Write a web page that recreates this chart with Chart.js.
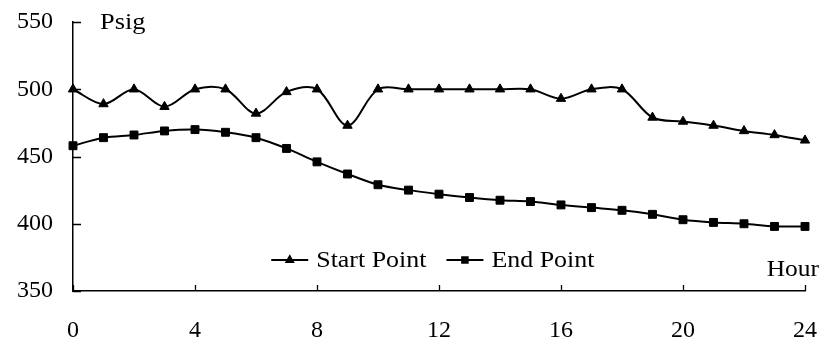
<!DOCTYPE html>
<html>
<head>
<meta charset="utf-8">
<script src="https://cdn.jsdelivr.net/npm/chart.js@4/dist/chart.umd.min.js"></script>
<style>
  html, body { margin: 0; padding: 0; background: #fff; }
  #wrap { width: 821px; height: 342px; }
</style>
</head>
<body>
<div id="wrap"><canvas id="c" width="821" height="342"></canvas></div>
<script>
// Hourly pipeline pressure (psig) at the start and end points
const hours = [0, 1, 2, 3, 4, 5, 6, 7, 8, 9, 10, 11, 12, 13, 14, 15, 16, 17, 18, 19, 20, 21, 22, 23, 24];
const startPoint = [500, 489, 500, 487, 500, 500, 482, 498, 500, 473, 500, 500, 500, 500, 500, 500, 493, 500, 500, 479, 476, 473, 469, 466, 462];
const endPoint = [458, 464, 466, 469, 470, 468, 464, 456, 446, 437, 429, 425, 422, 419.5, 417.5, 416.5, 414, 412, 410, 407, 403, 401, 400, 398, 398];
const xTicks = [0, 4, 8, 12, 16, 20, 24];
const yTicks = [350, 400, 450, 500, 550];
const seriesNames = ['Start Point', 'End Point'];
const yTitle = 'Psig';
const xTitle = 'Hour';

const FONT = '"Liberation Serif", "Times New Roman", serif';
const toPoints = vals => vals.map((v, i) => ({ x: hours[i], y: v }));

// Text drawn slightly widened, like the rest of the figure's serif lettering
function wideText(ctx, text, x, y, align, sx) {
  const w = ctx.measureText(text).width * sx;
  const left = align === 'right' ? x - w : x;
  ctx.save();
  ctx.textAlign = 'left';
  ctx.translate(left, y);
  ctx.scale(sx, 1);
  ctx.fillText(text, 0, 0);
  ctx.restore();
  return w;
}

// Short tick marks pointing into the plot, both axes
const innerTicks = {
  id: 'innerTicks',
  afterDraw(chart) {
    const { ctx, chartArea: a, scales: { x, y } } = chart;
    ctx.save();
    ctx.strokeStyle = '#000';
    ctx.lineWidth = 1.3;
    ctx.beginPath();
    xTicks.forEach(t => {
      const px = Math.round(x.getPixelForValue(t)) + 0.5;
      ctx.moveTo(px, a.bottom);
      ctx.lineTo(px, a.bottom - 6);
    });
    yTicks.forEach(t => {
      const py = Math.round(y.getPixelForValue(t)) + 0.5;
      ctx.moveTo(a.left, py);
      ctx.lineTo(a.left + 8, py);
    });
    ctx.stroke();
    ctx.restore();
  }
};

// Axis titles placed at the corners of the plot
const axisTitles = {
  id: 'axisTitles',
  afterDraw(chart) {
    const { ctx, chartArea: a } = chart;
    ctx.save();
    ctx.fillStyle = '#000';
    ctx.font = '24px ' + FONT;
    ctx.textBaseline = 'alphabetic';
    wideText(ctx, yTitle, a.left + 27, 29, 'left', 1.1);
    wideText(ctx, xTitle, 819, 276, 'right', 1.06);
    ctx.restore();
  }
};

// Legend drawn inside the plot area, in a single row
const innerLegend = {
  id: 'innerLegend',
  afterDraw(chart) {
    const { ctx, scales: { x, y } } = chart;
    ctx.save();
    ctx.font = '24px ' + FONT;
    ctx.fillStyle = '#000';
    ctx.strokeStyle = '#000';
    ctx.textBaseline = 'middle';
    let cx = x.getPixelForValue(6.5);
    const cy = y.getPixelForValue(373);
    chart.data.datasets.forEach(ds => {
      ctx.lineWidth = 2;
      ctx.beginPath();
      ctx.moveTo(cx, cy);
      ctx.lineTo(cx + 37, cy);
      ctx.stroke();
      Chart.helpers.drawPoint(ctx, {
        pointStyle: ds.pointStyle, radius: ds.pointRadius * 0.7, rotation: 0, borderWidth: 1
      }, cx + 18.5, cy);
      ctx.fillStyle = '#000';
      const tx = cx + 45;
      const w = wideText(ctx, ds.label, tx, cy + 1, 'left', 1.08);
      cx = tx + w + 20;
    });
    ctx.restore();
  }
};

new Chart(document.getElementById('c'), {
  type: 'line',
  data: {
    datasets: [
      {
        label: seriesNames[0],
        data: toPoints(startPoint),
        borderColor: '#000',
        backgroundColor: '#000',
        borderWidth: 2,
        pointStyle: 'triangle',
        pointRadius: 5.4,
        pointBorderWidth: 1,
        tension: 0.33,
        clip: false
      },
      {
        label: seriesNames[1],
        data: toPoints(endPoint),
        borderColor: '#000',
        backgroundColor: '#000',
        borderWidth: 2,
        pointStyle: 'rect',
        pointRadius: 5.6,
        pointBorderWidth: 1,
        tension: 0.33,
        clip: false
      }
    ]
  },
  options: {
    responsive: false,
    animation: false,
    devicePixelRatio: 1,
    layout: { padding: { top: 22, right: 16, left: 0, bottom: 0 } },
    plugins: {
      legend: { display: false },
      tooltip: { enabled: false }
    },
    scales: {
      x: {
        type: 'linear',
        min: 0,
        max: 24,
        afterBuildTicks: s => { s.ticks = xTicks.map(v => ({ value: v })); },
        afterFit: s => { s.height = 51; s.paddingLeft = 0; s.paddingRight = 0; },
        grid: { display: false, drawTicks: false },
        border: { display: true, color: '#000', width: 1.5 },
        ticks: {
          padding: 25,
          maxRotation: 0,
          autoSkip: false,
          color: '#000',
          font: { family: FONT, size: 24 }
        }
      },
      y: {
        min: 350,
        max: 550,
        afterBuildTicks: s => { s.ticks = yTicks.map(v => ({ value: v })); },
        afterFit: s => { s.width = 73; s.paddingTop = 0; s.paddingBottom = 0; },
        grid: { display: false, drawTicks: false },
        border: { display: true, color: '#000', width: 1.5 },
        ticks: {
          padding: 20,
          color: '#000',
          font: { family: FONT, size: 24 }
        }
      }
    }
  },
  plugins: [innerTicks, axisTitles, innerLegend]
});
</script>
</body>
</html>
